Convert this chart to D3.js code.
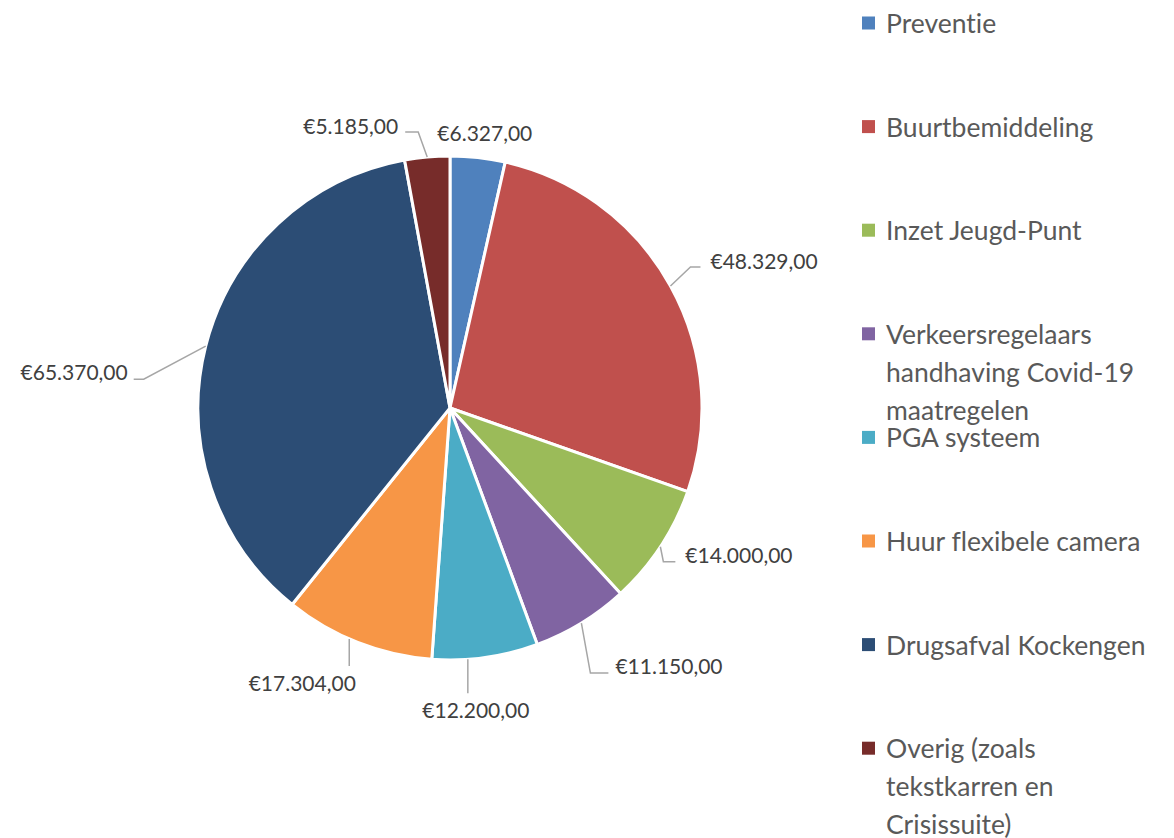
<!DOCTYPE html>
<html>
<head>
<meta charset="utf-8">
<script src="https://cdn.jsdelivr.net/npm/d3@7"></script>
<style>
  html, body { margin: 0; padding: 0; background: #fff; }
  svg { display: block; }
  text { font-variant-ligatures: none; }
</style>
</head>
<body>
<div id="chart"></div>
<script>
// data
const categories = ["Preventie", "Buurtbemiddeling", "Inzet Jeugd-Punt",
  "Verkeersregelaars handhaving Covid-19 maatregelen", "PGA systeem",
  "Huur flexibele camera", "Drugsafval Kockengen",
  "Overig (zoals tekstkarren en Crisissuite)"]
const amounts = [6327, 48329, 14000, 11150, 12200, 17304, 65370, 5185]
const legendLines = [
  ["Preventie"], ["Buurtbemiddeling"], ["Inzet Jeugd-Punt"],
  ["Verkeersregelaars", "handhaving Covid-19", "maatregelen"],
  ["PGA systeem"], ["Huur flexibele camera"], ["Drugsafval Kockengen"],
  ["Overig (zoals", "tekstkarren en", "Crisissuite)"]
]
const colors = ["#4F81BD", "#C0504D", "#9BBB59", "#8064A2", "#4BACC6", "#F79646", "#2C4D75", "#772C2A"]

// label placement relative to the slice edge point (tweak = degrees shift of the anchor)
const labelLayout = [
  { tweak: 0, leader: null, text: [7, -25], anchor: "middle" },
  { tweak: 0, leader: [[20, -19], [30, -19]], text: [40, -25], anchor: "start" },
  { tweak: 0, leader: [[3, 15], [15, 15]], text: [25, 8], anchor: "start" },
  { tweak: 0, leader: [[9, 50], [27, 50]], text: [34, 42], anchor: "start" },
  { tweak: 4, leader: [[0, 34]], text: [8, 50], anchor: "middle" },
  { tweak: 2.1, leader: [[0, 27]], text: [-47, 44], anchor: "middle" },
  { tweak: 0, leader: [[-62, 33], [-72, 33]], text: [-78, 25], anchor: "end" },
  { tweak: 0, leader: [[-9, -25], [-22, -25]], text: [-29, -32], anchor: "end" }
]

const width = 1174, height = 838
const cx = 450, cy = 408, radius = 252

const svg = d3.select("#chart").append("svg")
  .attr("width", width)
  .attr("height", height)

const fmt = v => "€" + d3.format(",.2f")(v).replace(/,/g, "#").replace(".", ",").replace(/#/g, ".")

const pie = d3.pie().sort(null).value(d => d)
const arcs = pie(amounts)
const arc = d3.arc().innerRadius(0).outerRadius(radius)

const g = svg.append("g").attr("transform", "translate(" + cx + "," + cy + ")")

g.selectAll("path.slice")
  .data(arcs)
  .enter()
  .append("path")
    .attr("class", "slice")
    .attr("d", arc)
    .attr("fill", (d, i) => colors[i])
    .attr("stroke", "#fff")
    .attr("stroke-width", 3)
    .attr("stroke-linejoin", "round")

// data labels with leader lines
arcs.forEach((d, i) => {
  const lay = labelLayout[i]
  const a = (d.startAngle + d.endAngle) / 2 + lay.tweak * Math.PI / 180
  const px = radius * Math.sin(a), py = -radius * Math.cos(a)
  if (lay.leader) {
    const pts = [[px, py]].concat(lay.leader.map(p => [px + p[0], py + p[1]]))
    g.append("path")
      .attr("d", d3.line()(pts))
      .attr("fill", "none")
      .attr("stroke", "#A6A6A6")
      .attr("stroke-width", 1.5)
  }
  g.append("text")
    .attr("x", px + lay.text[0])
    .attr("y", py + lay.text[1])
    .attr("text-anchor", lay.anchor)
    .attr("dominant-baseline", "central")
    .style("font-family", "Lato, 'Open Sans', sans-serif")
    .style("font-size", "21px")
    .style("fill", "#404040")
    .text(fmt(amounts[i]))
})

// legend
const legendX = 862, legendTop = 23, legendStep = 103.6, lineH = 38
const legend = svg.append("g")
legendLines.forEach((lines, i) => {
  const y = legendTop + i * legendStep
  legend.append("rect")
    .attr("x", legendX)
    .attr("y", y - 6.5)
    .attr("width", 13)
    .attr("height", 13)
    .attr("fill", colors[i])
  const t = legend.append("text")
    .attr("x", legendX + 24)
    .attr("y", y)
    .attr("dominant-baseline", "central")
    .style("font-family", "Lato, 'Open Sans', sans-serif")
    .style("font-size", "26.5px")
    .style("fill", "#595959")
  lines.forEach((ln, j) => {
    t.append("tspan")
      .attr("x", legendX + 24)
      .attr("y", y + j * lineH)
      .attr("dominant-baseline", "central")
      .text(ln)
  })
})
</script>
</body>
</html>
